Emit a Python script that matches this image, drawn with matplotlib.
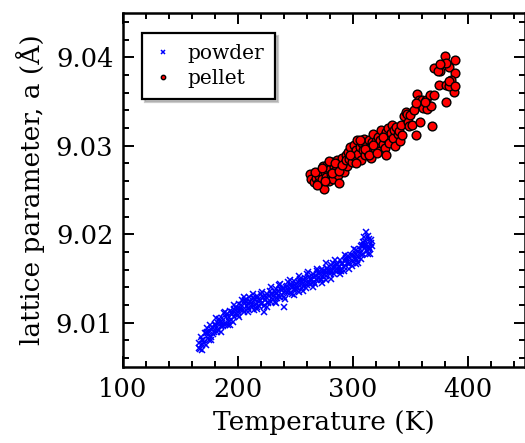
import matplotlib
matplotlib.use("Agg")
import matplotlib.pyplot as plt
from matplotlib.ticker import MultipleLocator

# ---------------- data ----------------
powder_T = [166, 167, 168, 169, 170, 171, 172, 173, 174, 175, 176, 177, 178, 179, 180,
            181, 182, 183, 184, 185, 186, 187, 188, 189, 190, 191, 192, 193, 194, 195,
            196, 197, 198, 199, 200, 201, 202, 203, 204, 205, 206, 207, 208, 209, 210,
            211, 212, 213, 214, 215, 216, 217, 218, 219, 220, 221, 222, 223, 224, 225,
            226, 227, 228, 229, 230, 231, 232, 233, 234, 235, 236, 237, 238, 239, 240,
            241, 242, 243, 244, 245, 246, 247, 248, 249, 250, 251, 252, 253, 254, 255,
            256, 257, 258, 259, 260, 261, 262, 263, 264, 265, 266, 267, 268, 269, 270,
            271, 272, 273, 274, 275, 276, 277, 278, 279, 280, 281, 282, 283, 284, 285,
            286, 287, 288, 289, 290, 291, 292, 293, 294, 295, 296, 297, 298, 299, 300,
            301, 302, 303, 304, 305, 306, 307, 308, 309, 310, 311, 312, 313, 314, 315, 316,
            166.5, 168.5, 170.5, 172.5, 174.5, 176.5, 178.5, 180.5, 182.5, 184.5, 186.5,
            188.5, 190.5, 192.5, 194.5, 196.5, 198.5, 200.5, 202.5, 204.5, 206.5, 208.5,
            210.5, 212.5, 214.5, 216.5, 218.5, 220.5, 222.5, 224.5, 226.5, 228.5, 230.5,
            232.5, 234.5, 236.5, 238.5, 240.5, 242.5, 244.5, 246.5, 248.5, 250.5, 252.5,
            254.5, 256.5, 258.5, 260.5, 262.5, 264.5, 266.5, 268.5, 270.5, 272.5, 274.5,
            276.5, 278.5, 280.5, 282.5, 284.5, 286.5, 288.5, 290.5, 292.5, 294.5, 296.5,
            298.5, 300.5, 302.5, 304.5, 306.5, 308.5, 310.5, 311.5, 312.5, 313.5, 314.5,
            315.5, 316.5, 315,
            169, 173, 177, 181, 185, 189, 193, 197, 201, 205, 209, 213, 217, 221, 225,
            229, 233, 237, 241, 245, 249, 253, 257, 261, 265, 269, 273, 277, 281, 285,
            289, 293, 297, 301, 305, 309, 313, 310, 307, 303]
powder_a = [9.0077, 9.0070, 9.0084, 9.0076, 9.0080, 9.0088, 9.0075, 9.0089, 9.0083, 9.0089,
            9.0097, 9.0084, 9.0094, 9.0089, 9.0099, 9.0094, 9.0089, 9.0100, 9.0104, 9.0096,
            9.0100, 9.0096, 9.0111, 9.0100, 9.0107, 9.0098, 9.0106, 9.0113, 9.0103, 9.0110,
            9.0101, 9.0115, 9.0110, 9.0116, 9.0109, 9.0121, 9.0116, 9.0114, 9.0126, 9.0112,
            9.0122, 9.0124, 9.0119, 9.0115, 9.0129, 9.0123, 9.0118, 9.0128, 9.0114, 9.0126,
            9.0121, 9.0130, 9.0119, 9.0125, 9.0132, 9.0122, 9.0129, 9.0119, 9.0126, 9.0132,
            9.0124, 9.0130, 9.0136, 9.0124, 9.0133, 9.0130, 9.0123, 9.0138, 9.0134, 9.0130,
            9.0143, 9.0129, 9.0137, 9.0139, 9.0129, 9.0136, 9.0140, 9.0135, 9.0146, 9.0134,
            9.0144, 9.0133, 9.0141, 9.0147, 9.0138, 9.0140, 9.0146, 9.0135, 9.0149, 9.0146,
            9.0139, 9.0145, 9.0148, 9.0139, 9.0155, 9.0145, 9.0152, 9.0144, 9.0149, 9.0155,
            9.0146, 9.0144, 9.0153, 9.0159, 9.0151, 9.0157, 9.0148, 9.0161, 9.0153, 9.0155,
            9.0159, 9.0148, 9.0162, 9.0159, 9.0155, 9.0165, 9.0158, 9.0168, 9.0155, 9.0163,
            9.0166, 9.0160, 9.0163, 9.0171, 9.0159, 9.0166, 9.0159, 9.0170, 9.0173, 9.0167,
            9.0175, 9.0166, 9.0173, 9.0164, 9.0177, 9.0173, 9.0172, 9.0182, 9.0171, 9.0180,
            9.0179, 9.0172, 9.0188, 9.0178, 9.0188, 9.0184, 9.0188, 9.0184, 9.0195, 9.0183, 9.0190,
            9.0072, 9.0081, 9.0077, 9.0088, 9.0081, 9.0093, 9.0087, 9.0098, 9.0092, 9.0101,
            9.0105, 9.0097, 9.0110, 9.0102, 9.0112, 9.0106, 9.0118, 9.0112, 9.0120, 9.0114,
            9.0126, 9.0117, 9.0125, 9.0120, 9.0127, 9.0118, 9.0127, 9.0121, 9.0112, 9.0129,
            9.0122, 9.0132, 9.0127, 9.0135, 9.0128, 9.0138, 9.0131, 9.0118, 9.0142, 9.0136,
            9.0141, 9.0137, 9.0144, 9.0139, 9.0147, 9.0142, 9.0151, 9.0143, 9.0149, 9.0145,
            9.0152, 9.0148, 9.0155, 9.0150, 9.0158, 9.0153, 9.0160, 9.0157, 9.0163, 9.0158,
            9.0165, 9.0160, 9.0168, 9.0163, 9.0171, 9.0167, 9.0176, 9.0169, 9.0178, 9.0174,
            9.0183, 9.0177, 9.0192, 9.0202, 9.0181, 9.0198, 9.0186, 9.0194, 9.0187, 9.0178,
            9.0069, 9.0094, 9.0081, 9.0105, 9.0090, 9.0112, 9.0097, 9.0120, 9.0106, 9.0129,
            9.0112, 9.0133, 9.0115, 9.0135, 9.0118, 9.0140, 9.0122, 9.0144, 9.0127, 9.0148,
            9.0131, 9.0153, 9.0136, 9.0157, 9.0140, 9.0161, 9.0145, 9.0167, 9.0150, 9.0171,
            9.0155, 9.0177, 9.0161, 9.0183, 9.0168, 9.0191, 9.0178, 9.0197, 9.0187, 9.0166]

pellet_T = [263, 264, 266, 268, 270, 271, 272, 273, 274, 275, 276, 277, 278, 279, 280,
            281, 282, 283, 284, 285, 286, 287, 288, 289, 290, 291, 292, 293, 294, 295,
            267, 269, 273, 276, 279, 282, 285, 288, 291, 294,
            296, 297, 298, 299, 300, 301, 302, 303, 304, 305, 306, 307, 308, 309, 310,
            311, 312, 313, 314, 315, 316, 317, 318, 319, 320, 321, 322, 323, 324, 325,
            326, 327, 328, 329, 330,
            298, 303, 306, 311, 314, 318, 321, 326, 329,
            331, 332, 333, 334, 335, 336, 337, 338, 339, 340, 341, 342, 343, 345, 346,
            347, 348, 349, 350, 352, 353, 355, 356, 358, 360, 361,
            359, 364, 367, 369, 371, 365, 368, 375, 381, 388, 376, 384, 371, 374,
            380, 384, 389, 389, 386, 381, 384, 389, 381, 376, 363, 355]
pellet_a = [9.0268, 9.0262, 9.0259, 9.0263, 9.0258, 9.0266, 9.0272, 9.0262, 9.0277, 9.0251,
            9.0270, 9.0265, 9.0278, 9.0260, 9.0274, 9.0268, 9.0282, 9.0262, 9.0276, 9.0271,
            9.0284, 9.0267, 9.0258, 9.0279, 9.0274, 9.0286, 9.0270, 9.0281, 9.0290, 9.0277,
            9.0270, 9.0256, 9.0275, 9.0260, 9.0283, 9.0269, 9.0280, 9.0272, 9.0278, 9.0284,
            9.0293, 9.0285, 9.0299, 9.0282, 9.0290, 9.0301, 9.0287, 9.0295, 9.0306, 9.0291,
            9.0299, 9.0284, 9.0303, 9.0295, 9.0308, 9.0289, 9.0300, 9.0293, 9.0307, 9.0299,
            9.0286, 9.0304, 9.0313, 9.0296, 9.0305, 9.0300, 9.0310, 9.0294, 9.0306, 9.0318,
            9.0302, 9.0311, 9.0298, 9.0315, 9.0308,
            9.0290, 9.0280, 9.0307, 9.0296, 9.0290, 9.0301, 9.0292, 9.0310, 9.0290,
            9.0320, 9.0303, 9.0314, 9.0323, 9.0309, 9.0318, 9.0300, 9.0321, 9.0313, 9.0317,
            9.0305, 9.0324, 9.0312, 9.0334, 9.0338, 9.0336, 9.0327, 9.0322, 9.0335, 9.0324,
            9.0340, 9.0312, 9.0359, 9.0352, 9.0352, 9.0343,
            9.0327, 9.0352, 9.0357, 9.0322, 9.0357, 9.0342, 9.0345, 9.0369, 9.0369, 9.0361,
            9.0384, 9.0367, 9.0388, 9.0384,
            9.0401, 9.0389, 9.0397, 9.0382, 9.0374, 9.0350, 9.0373, 9.0367, 9.0393, 9.0392,
            9.0350, 9.0348]

# ---------------- figure ----------------
plt.rcParams['font.family'] = 'DejaVu Serif'
plt.rcParams['mathtext.fontset'] = 'dejavuserif'

fig = plt.figure(figsize=(5.25, 4.43), dpi=100)
ax = fig.add_axes([123 / 525, 1 - 367 / 443, 1 - 123 / 525, (367 - 13) / 443])

ax.plot(powder_T, powder_a, linestyle='none', marker='x', color='#0000ff',
        markersize=4.6, markeredgewidth=1.1, label='powder')
ax.plot(pellet_T, pellet_a, linestyle='none', marker='o', markerfacecolor='#ff0000',
        markeredgecolor='black', markersize=6.3, markeredgewidth=1.0, label='pellet')

ax.set_xlim(100, 450)
ax.set_ylim(9.005, 9.045)
ax.xaxis.set_minor_locator(MultipleLocator(20))
ax.yaxis.set_minor_locator(MultipleLocator(0.002))
ax.set_xticks([100, 200, 300, 400])
ax.set_xticklabels(['100', '200', '300', '400'])
ax.set_yticks([9.01, 9.02, 9.03, 9.04])
ax.set_yticklabels(['9.01', '9.02', '9.03', '9.04'])

ax.tick_params(which='both', direction='in', top=True, right=True, labelsize=18.5, width=1.4)
ax.tick_params(which='major', length=8, pad=7)
ax.tick_params(which='minor', length=4)
for s in ax.spines.values():
    s.set_linewidth(1.8)

ax.set_xlabel('Temperature (K)', fontsize=19, labelpad=6)
ax.set_ylabel('lattice parameter, a (Å)', fontsize=19, labelpad=8)

leg = ax.legend(loc='upper left', bbox_to_anchor=(0.047, 0.944), borderaxespad=0,
                fontsize=14.5, markerscale=0.5, frameon=True, fancybox=False,
                shadow={'color': '0.6'},
                handlelength=1.0, handletextpad=0.7, borderpad=0.55, labelspacing=0.3)
leg.get_frame().set_edgecolor('black')
leg.get_frame().set_linewidth(1.6)

fig.savefig('out.png', dpi=100)
